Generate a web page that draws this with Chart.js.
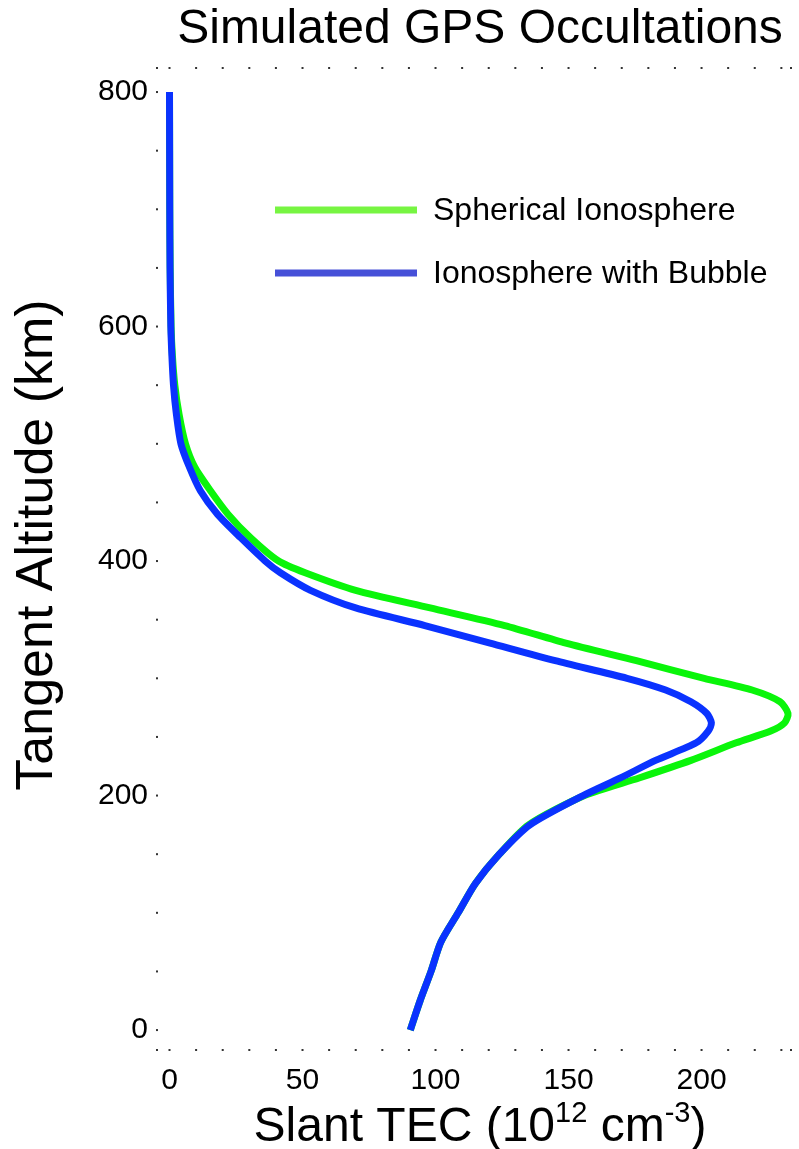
<!DOCTYPE html>
<html>
<head>
<meta charset="utf-8">
<title>Simulated GPS Occultations</title>
<script src="https://cdn.jsdelivr.net/npm/chart.js@4.4.1/dist/chart.umd.min.js"></script>
<style>
  html, body { margin: 0; padding: 0; background: #fff; }
  #wrap { width: 799px; height: 1149px; position: relative; }
</style>
</head>
<body>
<div id="wrap"><canvas id="chart-occultation"></canvas></div>
<script>
// Tangent altitude (km) shared by both curves
var altitudes = [0, 25, 50, 75, 100, 125, 150, 175, 200, 215, 230, 245, 255, 262, 270, 280, 290, 300,
  315, 330, 345, 360, 375, 390, 400, 420, 440, 460, 480, 500, 525, 550, 575, 600, 650, 700, 750, 800];

// Slant TEC (1e12 cm^-3)
var sphericalTec = [90.5, 94.2, 98.3, 102, 108.5, 115, 124, 135, 156, 176.5, 196, 213, 226, 231.2, 232.5, 229.5, 219, 201,
  175.5, 149, 126, 98, 70, 51, 41, 30.4, 22, 15.4, 9.5, 6, 3.6, 2, 1.1, 0.6, 0.25, 0.1, 0.05, 0];
var bubbleTec = [90.5, 94.2, 98.3, 102, 108.5, 115, 124, 135.5, 155.5, 169.5, 182.7, 198, 202.5, 203.7, 202, 196, 186.5, 172,
  145, 120.5, 96, 70, 53, 41.7, 36, 26.7, 18, 11.6, 7.5, 4.3, 2.6, 1.5, 0.9, 0.5, 0.2, 0.1, 0.05, 0];

var seriesLabels = ["Spherical Ionosphere", "Ionosphere with Bubble"];
var xTickValues = [0, 50, 100, 150, 200];
var yTickValues = [0, 200, 400, 600, 800];

var FONT = "'Liberation Sans', Arial, sans-serif";

function toPoints(xs, ys) {
  return xs.map(function (x, i) { return { x: x, y: ys[i] }; });
}

// Dotted axes, titles and legend drawn on the canvas
var decorPlugin = {
  id: "decor",
  afterDraw: function (chart) {
    var ctx = chart.ctx;
    var area = chart.chartArea;
    var xs = chart.scales.x;
    var ys = chart.scales.y;
    var v;
    ctx.save();
    ctx.fillStyle = "#333";
    // top / bottom axis dots every 10 units
    for (v = 0; v <= 230; v += 10) {
      var px = xs.getPixelForValue(v);
      ctx.fillRect(px - 1, area.top - 1, 2, 2);
      ctx.fillRect(px - 1, area.bottom - 1, 2, 2);
    }
    // left axis dots every 50 km
    for (v = 0; v <= 800; v += 50) {
      var py = ys.getPixelForValue(v);
      ctx.fillRect(area.left - 1, py - 1, 2, 2);
    }
    // corners
    ctx.fillRect(area.left - 1, area.top - 1, 2, 2);
    ctx.fillRect(area.left - 1, area.bottom - 1, 2, 2);
    ctx.fillRect(area.right - 2, area.top - 1, 2, 2);
    ctx.fillRect(area.right - 2, area.bottom - 1, 2, 2);

    ctx.fillStyle = "#000";
    ctx.textBaseline = "middle";

    // main title
    ctx.font = "48px " + FONT;
    ctx.textAlign = "center";
    ctx.fillText("Simulated GPS Occultations", 480, 30);

    // y title
    ctx.save();
    ctx.translate(38, 545);
    ctx.rotate(-Math.PI / 2);
    ctx.font = "52px " + FONT;
    ctx.fillText("Tangent Altitude (km)", 0, 0);
    ctx.restore();

    // x title with superscripts
    ctx.textAlign = "left";
    ctx.textBaseline = "alphabetic";
    var parts = [["Slant TEC (10", 48, 0], ["12", 29, -19], [" cm", 48, 0], ["-3", 29, -19], [")", 48, 0]];
    var widths = parts.map(function (p) { ctx.font = p[1] + "px " + FONT; return ctx.measureText(p[0]).width; });
    var total = widths.reduce(function (a, b) { return a + b; }, 0);
    var cx = 480 - total / 2;
    parts.forEach(function (p, i) {
      ctx.font = p[1] + "px " + FONT;
      ctx.fillText(p[0], cx, 1141 + p[2]);
      cx += widths[i];
    });

    // legend
    var legendColors = ["#77f542", "#4650d8"];
    var legendY = [210, 273];
    ctx.font = "32px " + FONT;
    ctx.textBaseline = "middle";
    seriesLabels.forEach(function (lbl, i) {
      ctx.strokeStyle = legendColors[i];
      ctx.lineWidth = 7;
      ctx.beginPath();
      ctx.moveTo(275, legendY[i]);
      ctx.lineTo(417, legendY[i]);
      ctx.stroke();
      ctx.fillText(lbl, 433, legendY[i] + 1);
    });
    ctx.restore();
  }
};

var chart = new Chart(document.getElementById("chart-occultation"), {
  type: "scatter",
  data: {
    datasets: [{
      label: seriesLabels[0],
      data: toPoints(sphericalTec, altitudes),
      borderColor: "#0af50a",
      borderWidth: 7,
      showLine: true,
      tension: 0.25,
      pointRadius: 0,
      borderCapStyle: "butt",
      borderJoinStyle: "round",
      order: 1
    }, {
      label: seriesLabels[1],
      data: toPoints(bubbleTec, altitudes),
      borderColor: "#0a32ff",
      borderWidth: 7,
      showLine: true,
      tension: 0.25,
      pointRadius: 0,
      borderCapStyle: "butt",
      borderJoinStyle: "round",
      order: 0
    }]
  },
  options: {
    responsive: true,
    maintainAspectRatio: false,
    animation: false,
    layout: { padding: { top: 68, right: 7, left: 0, bottom: 0 } },
    plugins: {
      legend: { display: false },
      title: { display: false },
      tooltip: { enabled: false }
    },
    scales: {
      x: {
        type: "linear",
        min: -4.7,
        max: 234,
        grid: { display: false, drawTicks: false },
        border: { display: false },
        afterBuildTicks: function (scale) {
          scale.ticks = xTickValues.map(function (v) { return { value: v }; });
        },
        afterFit: function (scale) { scale.height = 99; },
        ticks: { color: "#000", padding: 13, maxRotation: 0, font: { family: FONT, size: 30 } }
      },
      y: {
        type: "linear",
        min: -17,
        max: 820.5,
        grid: { display: false, drawTicks: false },
        border: { display: false },
        afterBuildTicks: function (scale) {
          scale.ticks = yTickValues.map(function (v) { return { value: v }; });
        },
        afterFit: function (scale) { scale.width = 157; },
        ticks: { color: "#000", padding: 9, font: { family: FONT, size: 30 } }
      }
    }
  },
  plugins: [decorPlugin]
});
</script>
</body>
</html>
